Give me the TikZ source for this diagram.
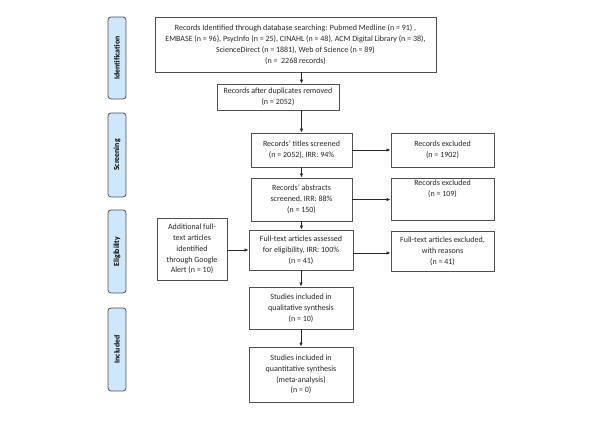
\documentclass[tikz,border=0pt]{standalone}
\usepackage{fontspec}
\setmainfont{Carlito}
\usetikzlibrary{arrows.meta}
\definecolor{sidefill}{HTML}{CFE7FB}
\definecolor{boxline}{HTML}{505050}
\tikzset{
  flowbox/.style={draw=boxline, line width=0.9pt, fill=white, inner sep=0pt, align=center,
    font=\fontsize{8}{10.8}\selectfont, text=black!85},
  sidebox/.style={draw=boxline, line width=0.8pt, fill=sidefill, rounded corners=3pt,
    inner sep=0pt, minimum width=18pt},
  sidetext/.style={rotate=90, font=\bfseries\fontsize{7.8}{8}\selectfont, inner sep=0pt},
  flowarrow/.style={draw=black!85, line width=0.8pt, -{Latex[length=4pt,width=3.5pt]}}
}
\begin{document}
\begin{tikzpicture}[x=1pt,y=-1pt]
\useasboundingbox (0,0) rectangle (600,430);
% side labels
\node[sidebox, minimum height=82pt] (sid) at (117,58) {};
\node[sidetext] (sidt) at (sid.center) {Identification};
\node[sidebox, minimum height=84pt] (sscr) at (117,155) {};
\node[sidetext] (sscrt) at (sscr.center) {Screening};
\node[sidebox, minimum height=83pt] (self) at (117,251.5) {};
\node[sidetext] (selft) at (self.center) {Eligibility};
\node[sidebox, minimum height=83pt] (sinc) at (117,349.5) {};
\node[sidetext] (sinct) at (sinc.center) {Included};
% flow boxes
\node[flowbox, minimum width=281pt, minimum height=55pt] (top) at (295.5,44.5)
  {Records Identified through database searching: Pubmed Medline (n = 91) ,\\
   EMBASE (n = 96), PsycInfo (n = 25), CINAHL (n = 48), ACM Digital Library (n = 38),\\
   ScienceDirect (n = 1881), Web of Science (n = 89)\\
   (n =\ \ 2268 records)};
\node[flowbox, minimum width=122pt, minimum height=26pt] (dup) at (278,97)
  {Records after duplicates removed\\(n = 2052)};
\node[flowbox, minimum width=101pt, minimum height=34pt] (titles) at (301.5,150)
  {Records' titles screened\\(n = 2052), IRR: 94\%};
\node[flowbox, minimum width=103pt, minimum height=34pt] (ex1) at (442.5,150)
  {Records excluded\\(n = 1902)};
\node[flowbox, minimum width=101pt, minimum height=43pt] (abs) at (301.5,199.5)
  {Records' abstracts\\screened, IRR: 88\%\\(n = 150)};
\node[flowbox, minimum width=103pt, minimum height=42pt] (ex2) at (442.5,199)
  {Records excluded\\(n = 109)\\[10pt]};
\node[flowbox, minimum width=104pt, minimum height=40pt] (full) at (301,250)
  {Full-text articles assessed\\for eligibility, IRR: 100\%\\(n = 41)};
\node[flowbox, minimum width=103pt, minimum height=40pt] (ex3) at (442.5,251)
  {Full-text articles excluded,\\with reasons\\(n = 41)};
\node[flowbox, minimum width=70pt, minimum height=62pt] (add) at (192,249)
  {Additional full-\\text articles\\identified\\through Google\\Alert (n = 10)};
\node[flowbox, minimum width=104pt, minimum height=42pt] (qual) at (301,308)
  {Studies included in\\qualitative synthesis\\(n = 10)};
\node[flowbox, minimum width=104pt, minimum height=55pt] (quant) at (301,374.5)
  {Studies included in\\quantitative synthesis\\(meta-analysis)\\(n = 0)};
% arrows
\draw[flowarrow] (top.south -| titles.north) -- (dup.north -| titles.north);
\draw[flowarrow] (dup.south -| titles.north) -- (titles.north);
\draw[flowarrow] (titles.south) -- (abs.north);
\draw[flowarrow] (abs.south) -- (abs.south |- full.north);
\draw[flowarrow] (full.south) -- (qual.north);
\draw[flowarrow] (qual.south) -- (quant.north);
\draw[flowarrow] (titles.east) -- (ex1.west);
\draw[flowarrow] (abs.east) -- (abs.east -| ex2.west);
\draw[flowarrow] ([yshift=-3pt]full.east) -- ([yshift=-3pt]full.east -| ex3.west);
\draw[flowarrow] ([yshift=-1pt]add.east) -- ([yshift=-1pt]add.east -| full.west);
\end{tikzpicture}
\end{document}
